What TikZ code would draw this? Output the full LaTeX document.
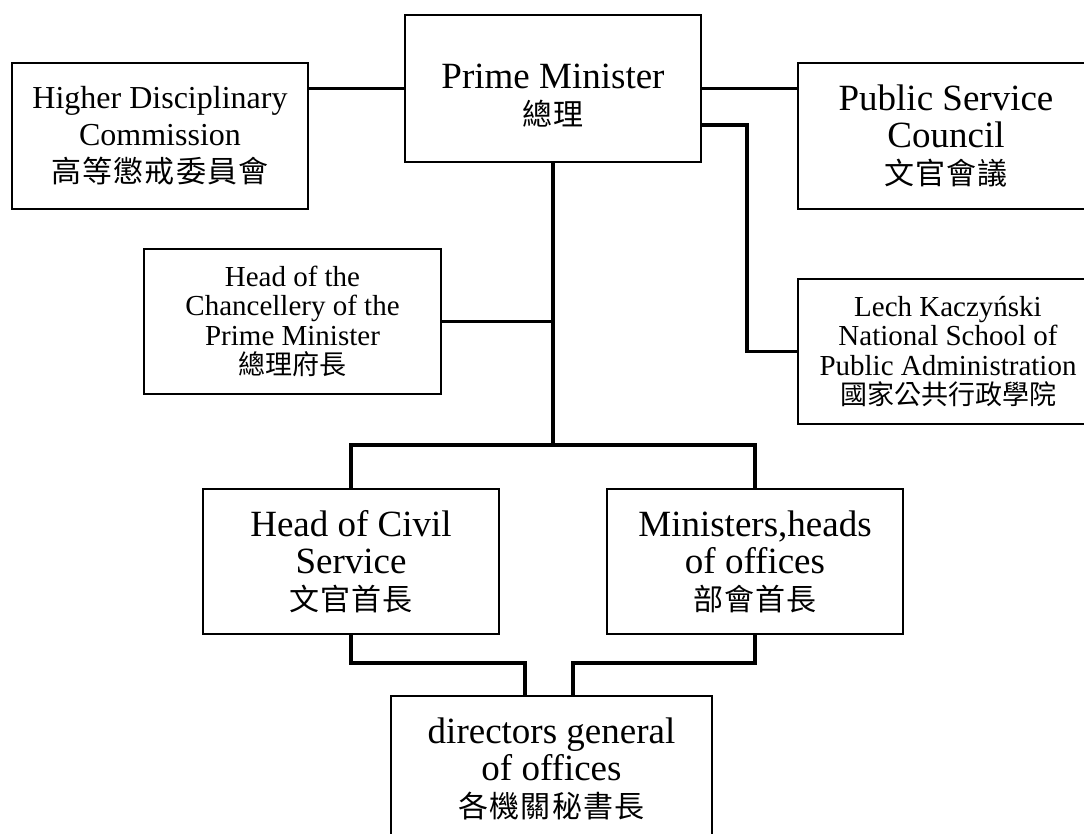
\documentclass[tikz,border=0pt]{standalone}
\usepackage{fontspec}
\setmainfont{Liberation Serif}
\newfontfamily\cjkw[LetterSpace=4]{Noto Sans CJK TC}
\newfontfamily\cjkn{Noto Sans CJK TC}
\begin{document}
\begin{tikzpicture}[x=1pt,y=-1pt,
  box/.style={draw=black,line width=2pt,rectangle,inner sep=0pt,align=center},
  big/.style={font=\fontsize{37}{37}\selectfont},
  mid/.style={font=\fontsize{32}{37}\selectfont},
  small/.style={font=\fontsize{29}{29.5}\selectfont},
  conn/.style={line width=3.4pt,line join=miter}]
\useasboundingbox (0,0) rectangle (1084,834);
\fill[white] (0,0) rectangle (1084,834);
% boxes
\node[box,mid,minimum width=296pt,minimum height=146pt] (hdc) at (160,136)
  {Higher Disciplinary\\Commission\\{\cjkw\fontsize{30}{38}\selectfont 高等懲戒委員會}};
\node[box,minimum width=296pt,minimum height=147pt] (pm) at (553,88.5) {};
\node[big,align=center] (pmtext) at ([yshift=-7pt]pm.center)
  {Prime Minister\\{\cjkw\fontsize{30}{38}\selectfont 總理}};
\node[box,big,minimum width=296pt,minimum height=146pt] (psc) at (946,136)
  {Public Service\\Council\\{\cjkw\fontsize{30}{38}\selectfont 文官會議}};
\node[box,small,minimum width=297pt,minimum height=145pt] (chan) at (292.5,321.5)
  {Head of the\\Chancellery of the\\Prime Minister\\{\cjkn\fontsize{27}{34}\selectfont 總理府長}};
\node[box,small,minimum width=300pt,minimum height=145pt] (lech) at (948,351.5)
  {Lech Kaczyński\\National School of\\Public Administration\\{\cjkn\fontsize{27}{34}\selectfont 國家公共行政學院}};
\node[box,big,minimum width=296pt,minimum height=145pt] (civ) at (351,561.5)
  {Head of Civil\\Service\\{\cjkw\fontsize{30}{38}\selectfont 文官首長}};
\node[box,big,minimum width=296pt,minimum height=145pt] (min) at (755,561.5)
  {Ministers,heads\\of offices\\{\cjkw\fontsize{30}{38}\selectfont 部會首長}};
\node[box,big,minimum width=321pt,minimum height=145pt] (dir) at (551.5,768.5)
  {directors general\\of offices\\{\cjkw\fontsize{30}{38}\selectfont 各機關秘書長}};
% connectors
\coordinate (bus) at (553,445);
\draw[conn] (pm.west) -- (hdc.east |- pm.west);
\draw[conn] (pm.east) -- (psc.west |- pm.east);
\draw[conn] ([yshift=-36.5pt]pm.east) -| ([xshift=-50pt]lech.west) -- (lech.west);
\draw[conn] (pm.south) -- (bus);
\draw[conn] (chan.east) -- (chan.east -| pm.south);
\draw[conn] (civ.north) -- (civ.north |- bus) -- (min.north |- bus) -- (min.north);
\draw[conn] (civ.south) |- ([xshift=-26.5pt,yshift=32pt]dir.north) -- ([xshift=-26.5pt]dir.north);
\draw[conn] (min.south) |- ([xshift=21.5pt,yshift=32pt]dir.north) -- ([xshift=21.5pt]dir.north);
\end{tikzpicture}
\end{document}
